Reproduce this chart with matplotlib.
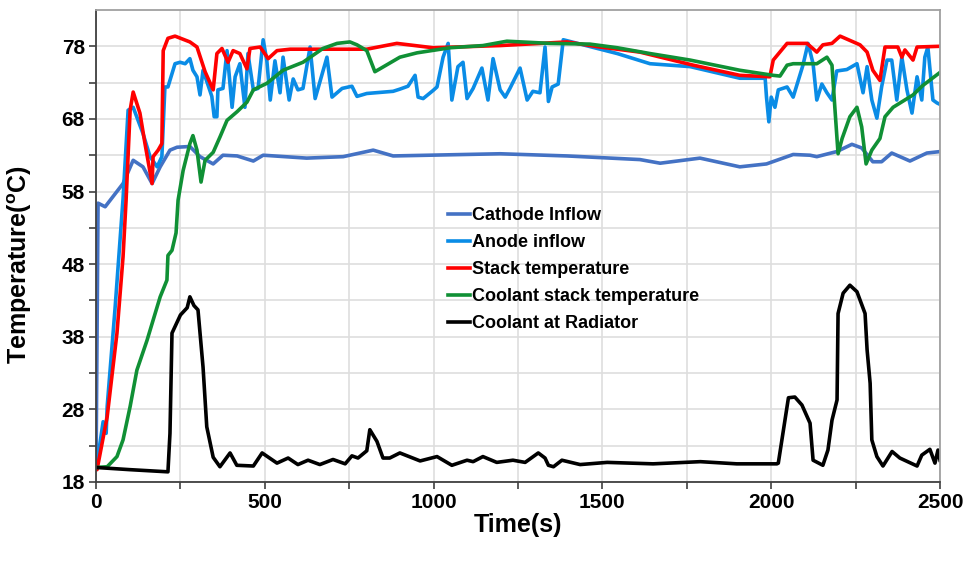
import numpy as np
import matplotlib.pyplot as plt
from matplotlib.ticker import MultipleLocator

plt.rcParams['font.family'] = ['Liberation Sans', 'DejaVu Sans']
plt.rcParams['font.weight'] = 'bold'
plt.rcParams['mathtext.fontset'] = 'custom'
plt.rcParams['mathtext.bf'] = 'Liberation Sans:bold'
plt.rcParams['mathtext.rm'] = 'Liberation Sans:bold'

# Cathode inflow
t_cath = [0, 6, 27, 80, 110, 139, 166, 190, 219, 240, 278, 308, 347, 376, 418, 466, 495,
          624, 732, 821, 880, 1197, 1395, 1611, 1671, 1789, 1907, 1986, 2065, 2115, 2135,
          2194, 2239, 2268, 2301, 2327, 2357, 2411, 2461, 2500]
T_cath = [20, 56.4, 55.9, 59.1, 62.3, 61.4, 59.1, 61.4, 63.7, 64.1, 64.2, 62.8, 61.8, 63.0, 62.9,
          62.2, 63.0, 62.6, 62.8, 63.7, 62.9, 63.2, 62.9, 62.4, 61.9, 62.6, 61.4, 61.8, 63.1,
          63.0, 62.8, 63.5, 64.5, 64.0, 62.1, 62.1, 63.3, 62.2, 63.3, 63.5]

# Anode inflow
t_anode = [0, 3, 21, 30, 33, 56, 80, 95, 110, 139, 160, 181, 195, 204, 213, 234, 249, 264, 278,
           287, 299, 308, 317, 343, 350, 358, 361, 376, 388, 403, 412, 426, 441, 450, 466, 480,
           495, 506, 516, 530, 545, 554, 572, 584, 598, 613, 634, 649, 684, 699, 729, 758, 773,
           802, 880, 900, 924, 945, 954, 969, 998, 1010, 1028, 1043, 1054, 1072, 1087, 1099,
           1117, 1143, 1161, 1176, 1197, 1212, 1226, 1256, 1277, 1294, 1315, 1330, 1340, 1351,
           1369, 1384, 1443, 1544, 1641, 1760, 1907, 1982, 1986, 1993, 2000, 2011, 2021, 2047,
           2065, 2094, 2109, 2124, 2135, 2150, 2165, 2180, 2194, 2224, 2254, 2272, 2284, 2298,
           2313, 2327, 2343, 2357, 2372, 2387, 2402, 2417, 2432, 2446, 2455, 2464, 2476, 2479,
           2491, 2500]
T_anode = [20, 20.6, 26.3, 24.7, 28.4, 41.7, 57, 69.2, 69.6, 66.0, 62.8, 61.4, 62.8, 72.4, 72.4,
           75.6, 75.8, 75.6, 76.3, 74.7, 73.8, 71.3, 74.7, 71.1, 68.3, 68.3, 72.0, 72.2, 77.4,
           69.6, 73.8, 75.6, 69.6, 77.0, 72.0, 72.2, 78.9, 76.0, 70.6, 76.0, 71.6, 76.5, 70.6,
           73.5, 72.0, 72.2, 77.9, 70.8, 76.5, 71.0, 72.2, 72.5, 71.1, 71.5, 71.8, 72.1, 72.5,
           74.0, 71.0, 70.8, 71.9, 72.4, 76.5, 78.4, 70.6, 75.2, 75.8, 70.8, 72.2, 75.0, 70.6,
           76.3, 72.0, 71.0, 72.2, 75.0, 70.6, 71.8, 71.6, 77.9, 70.4, 72.4, 72.8, 78.9, 78.2,
           77.0, 75.6, 75.2, 73.6, 73.6, 71.0, 67.6, 71.0, 69.6, 72.0, 72.4, 71.0, 75.4, 78.4,
           75.6, 70.6, 72.8, 71.6, 70.6, 74.6, 74.8, 75.6, 71.6, 75.2, 70.6, 68.1, 72.4, 76.1,
           76.1, 70.6, 76.5, 72.0, 68.8, 73.8, 70.6, 76.5, 77.9, 72.0, 70.6, 70.2, 70.0]

# Stack temperature
t_stack = [0, 3, 33, 62, 80, 89, 101, 110, 130, 145, 166, 169, 184, 195, 199, 213, 234, 278,
           299, 323, 347, 358, 373, 391, 406, 426, 447, 456, 486, 510, 536, 575, 802, 891, 998,
           1197, 1395, 1493, 1611, 1769, 1907, 1996, 2006, 2047, 2106, 2135, 2153, 2180, 2204,
           2263, 2284, 2301, 2322, 2337, 2375, 2387, 2396, 2420, 2432, 2500]
T_stack = [20, 19.7, 27.0, 38.5, 49.0, 56.8, 69.2, 71.7, 68.8, 64.6, 59.1, 62.8, 63.7, 64.6,
           77.4, 79.1, 79.4, 78.6, 77.9, 74.5, 72.0, 77.0, 77.7, 75.8, 77.4, 77.0, 74.9, 77.7,
           77.9, 76.3, 77.4, 77.6, 77.6, 78.4, 77.8, 78.1, 78.6, 77.9, 77.2, 75.4, 74.0, 73.8,
           76.1, 78.4, 78.4, 77.2, 78.2, 78.4, 79.4, 78.2, 77.2, 74.7, 73.3, 77.9, 77.9, 76.5,
           77.5, 76.1, 77.9, 78.0]

# Coolant stack temperature
t_cool = [0, 33, 62, 80, 101, 121, 151, 190, 210, 213, 225, 237, 243, 258, 278, 287, 299, 311,
          323, 347, 367, 388, 418, 447, 466, 506, 554, 613, 672, 714, 752, 773, 802, 826, 841,
          900, 951, 1049, 1146, 1217, 1345, 1463, 1544, 1641, 1760, 1907, 2006, 2026, 2047,
          2065, 2135, 2165, 2180, 2189, 2198, 2210, 2233, 2254, 2268, 2281, 2298, 2322, 2337,
          2361, 2420, 2449, 2500]
T_cool = [20, 20.1, 21.5, 23.8, 28.4, 33.4, 37.5, 43.5, 45.8, 49.2, 49.9, 52.3, 56.8, 60.9,
          64.6, 65.7, 63.7, 59.3, 62.3, 63.4, 65.5, 67.8, 69.0, 70.3, 72.0, 72.9, 74.7, 75.8,
          77.7, 78.4, 78.6, 78.2, 77.4, 74.5, 74.9, 76.5, 77.1, 77.8, 78.1, 78.7, 78.4, 78.3,
          77.8, 77.0, 76.1, 74.7, 74.0, 73.9, 75.4, 75.6, 75.6, 76.5, 75.4, 69.2, 63.2, 65.3,
          68.3, 69.6, 66.9, 61.8, 63.7, 65.3, 68.3, 69.6, 71.3, 72.6, 74.4]

# Coolant at radiator
t_rad = [0, 100, 213, 219, 225, 250, 270, 278, 290, 302, 317, 328, 347, 367, 397, 417, 466, 492,
         536, 569, 598, 628, 663, 702, 738, 758, 776, 802, 811, 832, 850, 870, 900, 960, 1010,
         1054, 1099, 1117, 1146, 1187, 1235, 1271, 1310, 1330, 1340, 1355, 1380, 1434, 1514,
         1650, 1790, 1898, 2017, 2021, 2051, 2070, 2091, 2115, 2124, 2153, 2168, 2180, 2195,
         2198, 2213, 2233, 2254, 2278, 2284, 2293, 2298, 2313, 2331, 2358, 2381, 2432, 2446,
         2470, 2485, 2494, 2500]
T_rad = [20, 19.7, 19.4, 24.7, 38.5, 41.0, 42.0, 43.5, 42.3, 41.7, 33.8, 25.6, 21.4, 20.1, 22.0,
         20.3, 20.2, 22.0, 20.6, 21.3, 20.4, 21.0, 20.4, 21.1, 20.5, 21.6, 21.3, 22.3, 25.2,
         23.6, 21.3, 21.3, 22.0, 20.9, 21.5, 20.3, 21.0, 20.8, 21.5, 20.7, 21.0, 20.7, 22.0,
         21.3, 20.3, 20.1, 21.0, 20.4, 20.7, 20.5, 20.8, 20.5, 20.5, 20.6, 29.6, 29.7, 28.6,
         26.1, 21.0, 20.3, 22.4, 26.5, 29.3, 41.2, 44.0, 45.1, 44.2, 41.2, 36.2, 31.6, 23.8,
         21.5, 20.2, 22.2, 21.3, 20.2, 21.7, 22.5, 20.6, 22.4, 21.0]

fig = plt.figure(figsize=(9.73, 5.64), dpi=100)
ax = fig.add_axes([0.0987, 0.1454, 0.8674, 0.8369])

lw = 2.6
ax.plot(t_cath, T_cath, color='#4472C4', lw=lw, label='Cathode Inflow', solid_joinstyle='round')
ax.plot(t_anode, T_anode, color='#0A8CE6', lw=lw, label='Anode inflow', solid_joinstyle='round')
ax.plot(t_stack, T_stack, color='#FF0000', lw=lw, label='Stack temperature', solid_joinstyle='round')
ax.plot(t_cool, T_cool, color='#109035', lw=lw, label='Coolant stack temperature', solid_joinstyle='round')
ax.plot(t_rad, T_rad, color='#000000', lw=lw, label='Coolant at Radiator', solid_joinstyle='round')

ax.set_xlim(0, 2500)
ax.set_ylim(18, 83)
ax.xaxis.set_major_locator(MultipleLocator(500))
ax.xaxis.set_minor_locator(MultipleLocator(250))
ax.set_yticks(np.arange(18, 80, 10))
ax.set_yticks(np.arange(23, 83, 10), minor=True)
ax.grid(True, which='both', color='#dedede', lw=1.2)
ax.set_axisbelow(True)
ax.tick_params(which='both', direction='out', length=5, width=1.2, color='#404040',
               labelsize=15, pad=3)
for lab in ax.get_xticklabels() + ax.get_yticklabels():
    lab.set_fontweight('bold')

for s in ['left', 'bottom']:
    ax.spines[s].set_color('#404040')
    ax.spines[s].set_linewidth(1.3)
for s in ['top', 'right']:
    ax.spines[s].set_color('#a0a0a0')
    ax.spines[s].set_linewidth(1.3)

ax.set_xlabel('Time(s)', fontsize=18, fontweight='bold', labelpad=1)
ax.set_ylabel(r'Temperature($^{\mathbf{o}}$C)', fontsize=18, fontweight='bold')
ax.yaxis.set_label_coords(-0.074, 0.46)

ax.legend(loc='upper left', bbox_to_anchor=(0.408, 0.598), frameon=False,
          prop={'size': 13, 'weight': 'bold'}, handlelength=1.25, handletextpad=0.1,
          labelspacing=0.56, borderaxespad=0)

fig.savefig('out.png', dpi=100)
